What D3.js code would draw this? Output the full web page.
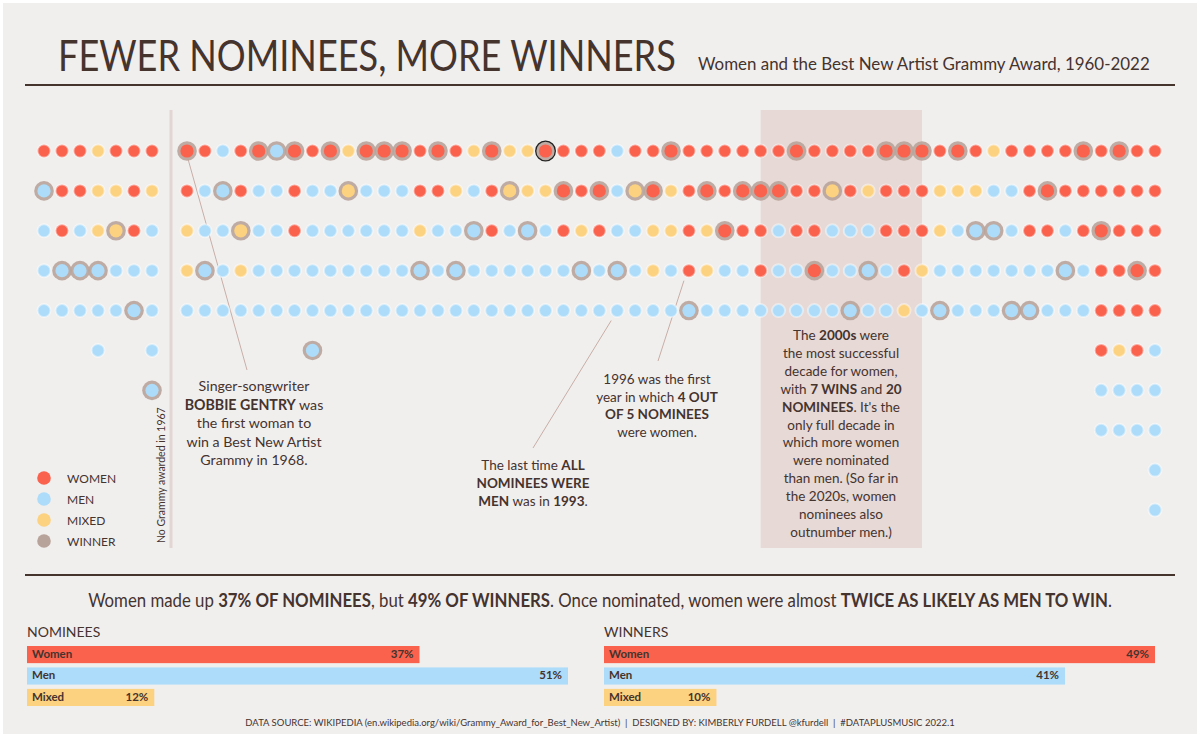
<!DOCTYPE html>
<html>
<head>
<meta charset="utf-8">
<script src="https://cdn.jsdelivr.net/npm/d3@7"></script>
<style>
  body { margin: 0; background: #fff; }
  svg { display: block; font-family: Lato, "Open Sans", sans-serif; }
</style>
</head>
<body>
<svg id="chart" width="1200" height="737"></svg>
<script>
// nominees per year, top row first: R = women, B = men, Y = mixed
var years = [1960, 1961, 1962, 1963, 1964, 1965, 1966,
  1968, 1969, 1970, 1971, 1972, 1973, 1974, 1975, 1976, 1977, 1978, 1979,
  1980, 1981, 1982, 1983, 1984, 1985, 1986, 1987, 1988, 1989,
  1990, 1991, 1992, 1993, 1994, 1995, 1996, 1997, 1998, 1999,
  2000, 2001, 2002, 2003, 2004, 2005, 2006, 2007, 2008, 2009,
  2010, 2011, 2012, 2013, 2014, 2015, 2016, 2017, 2018, 2019,
  2020, 2021, 2022];

var nominees = ["RBBBB", "RRRBB", "RRBBB", "YYYBBB", "RYYBB", "RRRBB", "RYBBBBB",
  "RRYYB", "RBBBB", "BBBBB", "RRYYB", "RBBBB", "BBBBB", "RRRBB", "RBBBBB", "RBBBB", "YYBBB", "RBBBB", "RBBBB",
  "RBBBB", "RRYBB", "RRBBB", "RYBBB", "YBBBB", "RRRBB", "YYBBB", "YYBBB", "RYBBB", "RRRBB",
  "RRYBB", "RRRBB", "BBBBB", "RYBBB", "RRYYB", "RYYBB", "RRRRB", "RRYYB", "RRRBB", "RRRBB",
  "RRRRB", "RRBBB", "RRRBB", "RRRRB", "RYBBB", "RRBBB", "RYBBB", "RRRBB", "RRRRY", "RRRYB",
  "RYYBB", "RYBBB", "RYBBB", "YBBBB", "RBBBB", "RRRBB", "RRRBB", "RRBBB", "RRRBB", "RRRRRRBB",
  "RRRRRYBB", "RRRRRRBB", "RRRRRBBBBB"];

// row index (0 = top) of the winner, -1 = not yet awarded
var winnerRow = [1, 3, 3, 3, 2, 4, 6,
  0, 3, 1, 2, 0, 0, 0, 5, 0, 1, 0, 0,
  0, 3, 0, 3, 2, 0, 1, 2, 0, 1,
  3, 1, 3, 1, 1, 0, 4, 1, 2, 1,
  1, 1, 0, 3, 1, 4, 3, 0, 0, 0,
  4, 0, 2, 2, 4, 4, 1, 3, 0, 2,
  0, 3, -1];

var highlightYear = 1988;

var groups = ["Women", "Men", "Mixed"];
var nomineeShare = [37, 51, 12];
var winnerShare = [49, 41, 10];
var legendLabels = ["WOMEN", "MEN", "MIXED", "WINNER"];

var colors = { R: "#fa624d", B: "#acdcf9", Y: "#fcd17f", W: "#b8a39a" };
var barColors = [colors.R, colors.B, colors.Y];
var ink = "#45332e";

var svg = d3.select("#chart");

svg.append("rect")
  .attr("x", 3).attr("y", 3)
  .attr("width", 1194).attr("height", 731)
  .attr("fill", "#f1efee");

// squeeze a text horizontally so it spans the given width
function fitWidth(sel, x0, y0, w, anchor) {
  var len = sel.node().getComputedTextLength();
  var k = Math.min(1, w / len);
  sel.attr("x", 0).attr("y", 0)
    .attr("transform", "translate(" + x0 + "," + y0 + ") scale(" + k + ",1)");
  if (anchor) sel.attr("text-anchor", anchor);
  return sel;
}

// title
var title = svg.append("text")
  .attr("font-size", 43).attr("font-weight", 400)
  .attr("fill", ink)
  .text("FEWER NOMINEES, MORE WINNERS");
fitWidth(title, 58, 71, 618);

var sub = svg.append("text")
  .attr("font-size", 17)
  .attr("fill", ink)
  .text("Women and the Best New Artist Grammy Award, 1960-2022");
fitWidth(sub, 698, 70, 452);

svg.append("line")
  .attr("x1", 25).attr("x2", 1175).attr("y1", 85).attr("y2", 85)
  .attr("stroke", ink).attr("stroke-width", 2);

svg.append("line")
  .attr("x1", 25).attr("x2", 1175).attr("y1", 575).attr("y2", 575)
  .attr("stroke", ink).attr("stroke-width", 2);

// scales: piecewise so 1967 is skipped
var x = d3.scaleLinear()
  .domain([1960, 1966, 1968, 2022])
  .range([44, 152, 187, 1155]);

var y = d3.scaleLinear()
  .domain([0, 9])
  .range([151, 510]);

// 2000s band
svg.append("rect")
  .attr("x", x(2000)).attr("y", 110)
  .attr("width", x(2009) - x(2000)).attr("height", 438)
  .attr("fill", "#e6d9d6");

// 1967 separator
svg.append("line")
  .attr("x1", 171).attr("x2", 171).attr("y1", 110).attr("y2", 548)
  .attr("stroke", "#e2d6d2").attr("stroke-width", 3);

svg.append("text")
  .attr("transform", "translate(165,543) rotate(-90)")
  .attr("font-size", 10.5).attr("fill", ink)
  .text("No Grammy awarded in 1967");

// annotation leader lines
var leaders = [
  [x(1968) + 1, y(0) + 8, 247, 370],
  [x(1992) - 6, y(4) + 10, 533, 448],
  [x(1996) - 5, y(3) + 10, 658, 361]
];
svg.selectAll(".leader").data(leaders).enter().append("line")
  .attr("class", "leader")
  .attr("x1", function (d) { return d[0]; })
  .attr("y1", function (d) { return d[1]; })
  .attr("x2", function (d) { return d[2]; })
  .attr("y2", function (d) { return d[3]; })
  .attr("stroke", "#c8aea7").attr("stroke-width", 1);

// flatten dots
var dots = [];
years.forEach(function (yr, i) {
  nominees[i].split("").forEach(function (c, r) {
    dots.push({ year: yr, row: r, kind: c, winner: winnerRow[i] === r });
  });
});

var dot = svg.selectAll(".dot").data(dots).enter().append("g")
  .attr("class", "dot")
  .attr("transform", function (d) { return "translate(" + x(d.year) + "," + y(d.row) + ")"; });

dot.filter(function (d) { return d.winner; })
  .append("circle")
  .attr("r", 9.8)
  .attr("fill", colors.W)
  .attr("fill-opacity", 0.9)
  .attr("stroke", function (d) { return d.year === highlightYear ? "#222" : "none"; })
  .attr("stroke-width", 1.3);

dot.append("circle")
  .attr("r", function (d) { return d.winner ? 6.6 : 6.5; })
  .attr("fill", function (d) { return colors[d.kind]; })
  .attr("stroke", function (d) { return d.winner ? "none" : "#fff"; })
  .attr("stroke-opacity", 0.45)
  .attr("stroke-width", 2);

// legend
var legend = svg.selectAll(".legend").data(legendLabels).enter().append("g")
  .attr("class", "legend")
  .attr("transform", function (d, i) { return "translate(44," + (478 + i * 21) + ")"; });

legend.append("circle")
  .attr("r", 6.8)
  .attr("fill", function (d, i) { return [colors.R, colors.B, colors.Y, colors.W][i]; });

legend.append("text")
  .attr("x", 23).attr("y", 4.5)
  .attr("font-size", 12).attr("fill", ink)
  .text(function (d) { return d; });

// rich text helper: **bold** segments
function richText(cx, y0, lh, lines, size) {
  var t = svg.append("text")
    .attr("text-anchor", "middle")
    .attr("font-size", size)
    .attr("fill", ink);
  lines.forEach(function (line, i) {
    var parts = line.split("**");
    parts.forEach(function (p, j) {
      if (!p) return;
      var ts = t.append("tspan").text(p)
        .attr("font-weight", j % 2 ? 700 : 400);
      if (j === 0 || (j === 1 && parts[0] === "")) {
        ts.attr("x", cx).attr("y", y0 + i * lh);
      }
    });
  });
  return t;
}

richText(254, 391, 18.6, [
  "Singer-songwriter",
  "**BOBBIE GENTRY** was",
  "the first woman to",
  "win a Best New Artist",
  "Grammy in 1968."
], 14.2);

richText(533, 470, 18, [
  "The last time **ALL**",
  "**NOMINEES WERE**",
  "**MEN** was in **1993**."
], 13.5);

richText(657, 384, 17.5, [
  "1996 was the first",
  "year in which **4 OUT**",
  "**OF 5 NOMINEES**",
  "were women."
], 13.5);

richText(841, 340, 17.9, [
  "The **2000s** were",
  "the most successful",
  "decade for women,",
  "with **7 WINS** and **20**",
  "**NOMINEES**. It's the",
  "only full decade in",
  "which more women",
  "were nominated",
  "than men. (So far in",
  "the 2020s, women",
  "nominees also",
  "outnumber men.)"
], 13.5);

var summary = richText(0, 0, 0, [
  "Women made up **37% OF NOMINEES**, but **49% OF WINNERS**. Once nominated, women were almost **TWICE AS LIKELY AS MEN TO WIN**."
], 18.5);
var sw = summary.node().getBBox().width;
summary.attr("transform", "translate(600,607) scale(" + Math.min(1, 1024 / sw) + ",1)");

// share bars
function shareBars(x0, title, values, maxW) {
  var g = svg.append("g").attr("transform", "translate(" + x0 + ",0)");
  g.append("text")
    .attr("x", 0).attr("y", 637)
    .attr("font-size", 14).attr("fill", ink)
    .text(title);

  var bx = d3.scaleLinear().domain([0, d3.max(values)]).range([0, maxW]);
  var by = d3.scaleBand().domain(groups).range([646, 706]).paddingInner(0.2);

  var row = g.selectAll(".bar").data(values).enter().append("g")
    .attr("class", "bar")
    .attr("transform", function (d, i) { return "translate(0," + by(groups[i]) + ")"; });

  row.append("rect")
    .attr("width", function (d) { return bx(d); })
    .attr("height", by.bandwidth())
    .attr("fill", function (d, i) { return barColors[i]; });

  row.append("text")
    .attr("x", 5).attr("y", 12)
    .attr("font-size", 11.5).attr("font-weight", 700).attr("fill", ink)
    .text(function (d, i) { return groups[i]; });

  row.append("text")
    .attr("x", function (d) { return bx(d) - 6; }).attr("y", 12)
    .attr("text-anchor", "end")
    .attr("font-size", 11.5).attr("font-weight", 700).attr("fill", ink)
    .text(function (d) { return d + "%"; });
}

shareBars(27, "NOMINEES", nomineeShare, 541);
shareBars(604, "WINNERS", winnerShare, 551);

var footer = svg.append("text")
  .attr("font-size", 9.5).attr("fill", ink)
  .text("DATA SOURCE: WIKIPEDIA (en.wikipedia.org/wiki/Grammy_Award_for_Best_New_Artist)  |  DESIGNED BY: KIMBERLY FURDELL @kfurdell  |  #DATAPLUSMUSIC 2022.1")
  .attr("xml:space", "preserve");
fitWidth(footer, 600, 726, 726, "middle");
</script>
</body>
</html>
